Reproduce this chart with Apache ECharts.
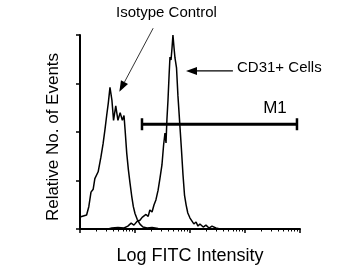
<!DOCTYPE html>
<html><head><meta charset="utf-8">
<script src="https://cdn.jsdelivr.net/npm/echarts@6/dist/echarts.min.js"></script>
<style>html,body{margin:0;padding:0;background:#fff}#c{width:345px;height:275px}</style>
</head><body><div id="c"></div>
<script>
// x in log10 decades of FITC intensity, y relative events
const majorTicks = [0, 1, 2, 3, 4];
const minorMultipliers = [2, 3, 4, 5, 6, 7, 8, 9];
const isoX = [0,0.03,0.12,0.16,0.2,0.24,0.27,0.33,0.38,0.42,0.455,0.485,0.515,0.545,0.58,0.61,0.65,0.69,0.73,0.77,0.8,0.82,0.85,0.88,0.91,0.94,0.97,1.0,1.04,1.09,1.145,1.22,1.31,1.42,1.545,4];
const isoY = [12.4,12.4,14.4,23,38,41,52,59,74,88,103,117,130,146,133,112,127,112,120,112,117,102,78,61,47,34,23,16,10,5,2,1,1.5,0.5,0,0];
const cdX = [0.51,0.58,0.69,0.8,0.87,0.93,0.98,1.04,1.09,1.13,1.16,1.2,1.24,1.27,1.31,1.345,1.38,1.42,1.455,1.49,1.52,1.545,1.564,1.58,1.6,1.62,1.636,1.655,1.673,1.69,1.71,1.727,1.755,1.78,1.818,1.845,1.873,1.9,1.93,1.96,2.0,2.036,2.07,2.11,2.145,2.18,2.24,2.29,2.345,2.4,2.47,2.545,4];
const cdY = [0,1,1.5,1,3,6,4,8,9,12,10,15,13,19.6,17.5,24.7,30,40,52.6,66,86.6,99,88.7,112.4,133,158.8,177.3,174.2,186.6,200,186.6,176.3,166,138,105,81.4,55.7,35,24.7,16.5,11.3,9.3,5.2,7.2,3,5.2,2,4,1,3,1,0,0];
const m1Gate = [[1.127, 108, 3.945]];
const arrows = [[1.33, 207, 0.715, 141.5, 0.8], [2.78, 163, 1.927, 163, 1.3]];
const annoText = ['Isotype Control', 'CD31+ Cells', 'M1'];
const annoAt = [[1.573, 222.7], [2.855, 166], [3.33, 124.7]];

const minorTicks = [];
for (let d = 0; d < 4; d++) minorMultipliers.forEach(k => minorTicks.push(d + Math.log10(k)));

const FONT = 'Liberation Sans, Arial, sans-serif';
const chart = echarts.init(document.getElementById('c'), null, {renderer: 'canvas'});
chart.setOption({
  animation: false,
  backgroundColor: '#fff',
  grid: {left: 80, right: 45, top: 35, bottom: 46},
  xAxis: [{
    type: 'value', min: 0, max: 4, interval: 1, position: 'bottom',
    axisLine: {lineStyle: {color: '#000', width: 2}},
    axisTick: {length: 4, lineStyle: {color: '#000', width: 1.5}},
    axisLabel: {show: false}, splitLine: {show: false},
    name: 'Log FITC Intensity', nameLocation: 'middle', nameGap: 18,
    nameTextStyle: {fontFamily: FONT, fontSize: 18, color: '#000'}
  }, {
    type: 'value', min: 0, max: 4, position: 'bottom', offset: 0,
    axisLine: {show: false},
    axisTick: {show: true, customValues: minorTicks, length: 2.5, lineStyle: {color: '#000', width: 1}},
    axisLabel: {show: false}, splitLine: {show: false}
  }],
  yAxis: {
    type: 'value', min: 0, max: 200, interval: 50,
    axisLine: {show: true, lineStyle: {color: '#000', width: 2}},
    axisTick: {show: true, length: 4, lineStyle: {color: '#000', width: 1.5}},
    axisLabel: {show: false}, splitLine: {show: false},
    name: 'Relative No. of Events', nameLocation: 'middle', nameGap: 18,
    nameTextStyle: {fontFamily: FONT, fontSize: 17, color: '#000', padding: [0, 10, 0, 0]}
  },
  series: [
    {type: 'line', data: isoX.map((x, i) => [x, isoY[i]]), showSymbol: false, symbol: 'none',
     lineStyle: {color: '#000', width: 1.5}},
    {type: 'line', data: cdX.map((x, i) => [x, cdY[i]]), showSymbol: false, symbol: 'none',
     lineStyle: {color: '#000', width: 1.5}},
    {type: 'custom', data: m1Gate, clip: false,
     renderItem(params, api) {
       const a = api.coord([api.value(0), api.value(1)]);
       const b = api.coord([api.value(2), api.value(1)]);
       return {type: 'group', children: [
         {type: 'line', shape: {x1: a[0], y1: a[1], x2: b[0], y2: b[1]}, style: {stroke: '#000', lineWidth: 3}},
         {type: 'line', shape: {x1: a[0], y1: a[1] - 6, x2: a[0], y2: a[1] + 6}, style: {stroke: '#000', lineWidth: 2.5}},
         {type: 'line', shape: {x1: b[0], y1: b[1] - 6, x2: b[0], y2: b[1] + 6}, style: {stroke: '#000', lineWidth: 2.5}}
       ]};
     }},
    {type: 'custom', data: arrows, clip: false,
     renderItem(params, api) {
       const p0 = api.coord([api.value(0), api.value(1)]);
       const p1 = api.coord([api.value(2), api.value(3)]);
       const ang = Math.atan2(p1[1] - p0[1], p1[0] - p0[0]);
       const L = 11, W = 4;
       const bx = p1[0] - L * Math.cos(ang), by = p1[1] - L * Math.sin(ang);
       const nx = -Math.sin(ang), ny = Math.cos(ang);
       return {type: 'group', children: [
         {type: 'line', shape: {x1: p0[0], y1: p0[1], x2: bx, y2: by}, style: {stroke: '#000', lineWidth: api.value(4)}},
         {type: 'polygon', shape: {points: [p1, [bx + nx * W, by + ny * W], [bx - nx * W, by - ny * W]]}, style: {fill: '#000'}}
       ]};
     }},
    {type: 'custom', data: annoAt, clip: false,
     renderItem(params, api) {
       const p = api.coord([api.value(0), api.value(1)]);
       const i = params.dataIndex;
       return {type: 'text', x: p[0], y: p[1], style: {
         text: annoText[i], fill: '#000', fontFamily: FONT, fontSize: i === 2 ? 17 : 15,
         align: i === 0 ? 'center' : 'left', verticalAlign: 'middle'}};
     }}
  ]
});
</script></body></html>
